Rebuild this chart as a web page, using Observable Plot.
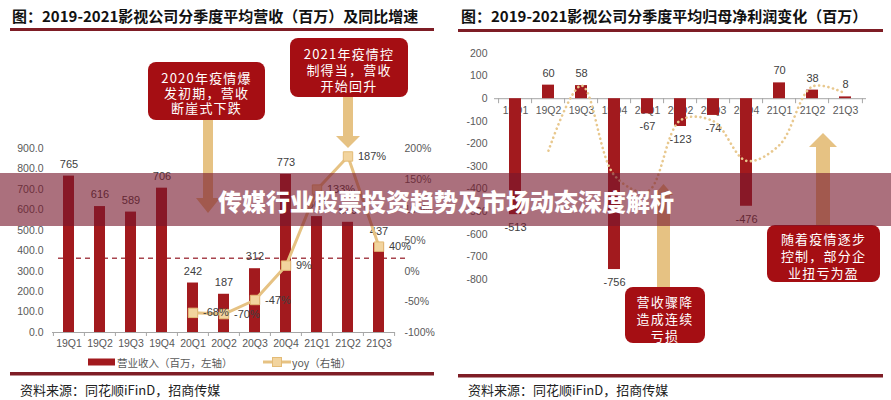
<!DOCTYPE html>
<html>
<head>
<meta charset="utf-8">
<script src="https://cdn.jsdelivr.net/npm/d3@7"></script>
<script src="https://cdn.jsdelivr.net/npm/@observablehq/plot@0.6"></script>
<style>
  html, body { margin: 0; padding: 0; background: #fff; }
  #wrap { position: relative; width: 891px; height: 400px; overflow: hidden; background: #fff; }
  #wrap > svg.plot { position: absolute; top: 0; }
  #overlay { position: absolute; left: 0; top: 0; }
</style>
</head>
<body>
<div id="wrap">
<svg id="overlay" width="891" height="400" xmlns="http://www.w3.org/2000/svg" font-family="'Noto Sans CJK SC', sans-serif">
  <!-- headers -->
  <text x="12" y="15" dominant-baseline="central" font-size="15" font-weight="700" fill="#111">图：2019-2021影视公司分季度平均营收（百万）及同比增速</text>
  <rect x="10" y="28" width="424" height="3" fill="#7e1d25"/>
  <text x="461" y="15" dominant-baseline="central" font-size="15" font-weight="700" fill="#111">图：2019-2021影视公司分季度平均归母净利润变化（百万）</text>
  <rect x="458" y="29" width="425" height="3" fill="#7e1d25"/>
  <!-- footers -->
  <rect x="10" y="372" width="424" height="3.5" fill="#7e1d25"/>
  <text x="20" y="389" dominant-baseline="central" font-size="13" fill="#222">资料来源：同花顺iFinD，招商传媒</text>
  <rect x="458" y="374" width="425" height="3.5" fill="#7e1d25"/>
  <text x="468" y="389" dominant-baseline="central" font-size="13" fill="#222">资料来源：同花顺iFinD，招商传媒</text>
  <!-- legend (left) -->
  <rect x="88" y="358.5" width="27" height="7" fill="#a21a1e"/>
  <text x="117" y="362" dominant-baseline="central" font-size="10.5" fill="#595959">营业收入（百万，左轴）</text>
  <line x1="263" y1="362" x2="291" y2="362" stroke="#e6c283" stroke-width="3"/>
  <rect x="272.5" y="357.5" width="9" height="9" fill="#f2d49e" stroke="#e3bb76"/>
  <text x="292" y="362" dominant-baseline="central" font-size="10.5" fill="#595959">yoy（右轴）</text>

  <!-- left annotations -->
  <rect x="203" y="119" width="10" height="80" fill="#e6c283"/>
  <polygon points="196,198 220,198 208,213" fill="#e6c283"/>
  <rect x="148" y="62" width="117" height="58" rx="8" fill="#a50e13"/>
  <g fill="#fff" font-size="13" text-anchor="middle" letter-spacing="1.2" dominant-baseline="central">
    <text x="206.5" y="77">2020年疫情爆</text>
    <text x="206.5" y="92">发初期，营收</text>
    <text x="206.5" y="107">断崖式下跌</text>
  </g>
  <rect x="343" y="96" width="10" height="41" fill="#e6c283"/>
  <polygon points="336,136 360,136 348,148" fill="#e6c283"/>
  <rect x="290" y="38" width="118" height="59" rx="8" fill="#a50e13"/>
  <g fill="#fff" font-size="13" text-anchor="middle" letter-spacing="1.2" dominant-baseline="central">
    <text x="349" y="53">2021年疫情控</text>
    <text x="349" y="69">制得当，营收</text>
    <text x="349" y="85">开始回升</text>
  </g>

  <!-- right annotations -->
  <rect x="657" y="194" width="13" height="95" fill="#e6c283"/>
  <polygon points="654,195 673,195 663.5,184" fill="#e6c283"/>
  <rect x="625" y="287" width="80" height="56" rx="8" fill="#a50e13"/>
  <g fill="#fff" font-size="13" text-anchor="middle" letter-spacing="1.2" dominant-baseline="central">
    <text x="665" y="301">营收骤降</text>
    <text x="665" y="318">造成连续</text>
    <text x="665" y="335">亏损</text>
  </g>
  <rect x="816" y="146" width="14" height="80" fill="#e6c283"/>
  <polygon points="809,147 837,147 823,133" fill="#e6c283"/>
  <rect x="767" y="225" width="113" height="57" rx="8" fill="#a50e13"/>
  <g fill="#fff" font-size="13" text-anchor="middle" letter-spacing="1.2" dominant-baseline="central">
    <text x="823.5" y="238">随着疫情逐步</text>
    <text x="823.5" y="255">控制，部分企</text>
    <text x="823.5" y="272">业扭亏为盈</text>
  </g>

  <!-- banner -->
  <rect x="0" y="173" width="891" height="53" fill="rgba(120,25,45,0.62)"/>
  <text x="446" y="200" text-anchor="middle" dominant-baseline="central" font-size="24" font-weight="900" fill="#fff">传媒行业股票投资趋势及市场动态深度解析</text>
</svg>
</div>
<script>
// ---------- data ----------
const quarters = ["19Q1","19Q2","19Q3","19Q4","20Q1","20Q2","20Q3","20Q4","21Q1","21Q2","21Q3"];
const revenue = [765, 616, 589, 706, 242, 187, 312, 773, 567, 539, 437];
const yoyQuarters = ["20Q1","20Q2","20Q3","20Q4","21Q1","21Q2","21Q3"];
const yoy = [-68, -70, -47, 9, 133, 187, 40];
const revenueRef = [363];
const revenueTicks = [0, 100, 200, 300, 400, 500, 600, 700, 800, 900];
const yoyTicks = [-100, -50, 0, 50, 100, 150, 200];

const profit = [-513, 60, 58, -756, -67, -123, -74, -476, 70, 38, 8];
const trendQuarters = ["19Q2","19Q3","19Q4","20Q1","20Q2","20Q3","20Q4","21Q1","21Q2","21Q3"];
const trend = [-230, 58, -340, -410, -95, -100, -275, -205, 54, 23];
const profitTicks = [200, 100, 0, -100, -200, -300, -400, -500, -600, -700, -800];

// ---------- styles ----------
const BAR = "#a21a1e";
const GOLD = "#e6c283";
const AXIS = "#a6a6a6";
const LABEL = "#404040";
const TICKTXT = "#595959";
const FONT = "'Liberation Sans', Arial, sans-serif";

// yoy (%) shares the left axis: -100% ↔ 0, 200% ↔ 900
const toLeft = v => (v + 100) * 3;

const revRows = quarters.map((q, i) => ({q, v: revenue[i]}));
const yoyRows = yoyQuarters.map((q, i) => ({q, v: yoy[i], y: toLeft(yoy[i])}));
const profitRows = quarters.map((q, i) => ({q, v: profit[i]}));
const trendRows = trendQuarters.map((q, i) => ({q, v: trend[i]}));

const wrap = document.getElementById("wrap");
const overlay = document.getElementById("overlay");

// ---------- left chart ----------
{
  const W = 445, H = 400, ml = 52, mr = 50, mt = 148, mb = 68;
  const step = (W - ml - mr) / quarters.length;
  const plotH = H - mt - mb;
  const chart = Plot.plot({
    width: W, height: H,
    marginLeft: ml, marginRight: mr, marginTop: mt, marginBottom: mb,
    style: {fontFamily: FONT, fontSize: "10.5px", color: TICKTXT, background: "transparent", overflow: "visible"},
    x: {domain: quarters, paddingInner: 0.65, paddingOuter: 0.325, axis: null},
    y: {domain: [0, 900], axis: null},
    marks: [
      Plot.axisY({anchor: "left", ticks: revenueTicks, tickFormat: d => d.toFixed(1), tickSize: 0, tickPadding: 9, label: null, fill: TICKTXT}),
      Plot.axisY({anchor: "right", ticks: yoyTicks.map(toLeft), tickFormat: d => Math.round(d / 3 - 100) + "%", tickSize: 0, tickPadding: 9, label: null, fill: TICKTXT}),
      Plot.ruleY(revenueRef, {stroke: "#a8454e", strokeWidth: 1.5, strokeDasharray: "5,4", insetLeft: 6, insetRight: -10}),
      Plot.barY(revRows, {x: "q", y: "v", fill: BAR}),
      Plot.ruleY([0], {stroke: AXIS}),
      Plot.ruleX(quarters, {x: d => d, dx: -step / 2, insetTop: plotH, insetBottom: -4, stroke: AXIS}),
      Plot.ruleX(quarters.slice(-1), {x: d => d, dx: step / 2, insetTop: plotH, insetBottom: -4, stroke: AXIS}),
      Plot.text(revRows, {x: "q", y: "v", text: d => String(d.v), dy: -12, fill: LABEL, fontSize: 11}),
      Plot.text(quarters, {x: d => d, y: 0, dy: 11, text: d => d, fill: TICKTXT}),
      Plot.line(yoyRows, {x: "q", y: "y", stroke: GOLD, strokeWidth: 3}),
      Plot.dot(yoyRows, {x: "q", y: "y", symbol: "square", r: 5.3, fill: "#f2d49e", stroke: "#e3bb76", strokeWidth: 1}),
      Plot.text(yoyRows, {x: "q", y: "y", text: d => d.v + "%", dx: 10, textAnchor: "start", fill: LABEL, fontSize: 11})
    ]
  });
  chart.classList.add("plot");
  chart.style.left = "0px";
  wrap.insertBefore(chart, overlay);
}

// ---------- right chart ----------
{
  const W = 446, H = 400, ml = 49, mr = 25, mt = 53, mb = 121;
  const step = (W - ml - mr) / quarters.length;
  const unitsPerPx = 1000 / (H - mt - mb);
  const chart = Plot.plot({
    width: W, height: H,
    marginLeft: ml, marginRight: mr, marginTop: mt, marginBottom: mb,
    style: {fontFamily: FONT, fontSize: "10.5px", color: TICKTXT, background: "transparent", overflow: "visible"},
    x: {domain: quarters, paddingInner: 0.645, paddingOuter: 0.3225, axis: null},
    y: {domain: [-800, 200], axis: null},
    marks: [
      Plot.axisY({anchor: "left", ticks: profitTicks, tickFormat: d => String(d), tickSize: 0, tickPadding: 7, label: null, fill: TICKTXT}),
      Plot.text(quarters, {x: d => d, y: 0, dy: 12, text: d => d, fill: TICKTXT}),
      Plot.ruleY([0], {stroke: AXIS}),
      Plot.ruleX(quarters, {x: d => d, dx: -step / 2, y1: 0, y2: -5 * unitsPerPx, stroke: AXIS}),
      Plot.ruleX(quarters.slice(-1), {x: d => d, dx: step / 2, y1: 0, y2: -5 * unitsPerPx, stroke: AXIS}),
      Plot.barY(profitRows, {x: "q", y: "v", fill: BAR}),
      Plot.text(profitRows, {filter: d => d.v >= 0, x: "q", y: "v", text: d => String(d.v), dy: -12, fill: LABEL, fontSize: 11}),
      Plot.text(profitRows, {filter: d => d.v < 0, x: "q", y: "v", text: d => String(d.v), dy: 13, fill: LABEL, fontSize: 11}),
      Plot.line(trendRows, {x: "q", y: "v", curve: "catmull-rom", stroke: "#e8c88e", strokeWidth: 2.6, strokeDasharray: "0.1,4.6", strokeLinecap: "round"})
    ]
  });
  chart.classList.add("plot");
  chart.style.left = "445px";
  wrap.insertBefore(chart, overlay);
}
</script>
</body>
</html>
